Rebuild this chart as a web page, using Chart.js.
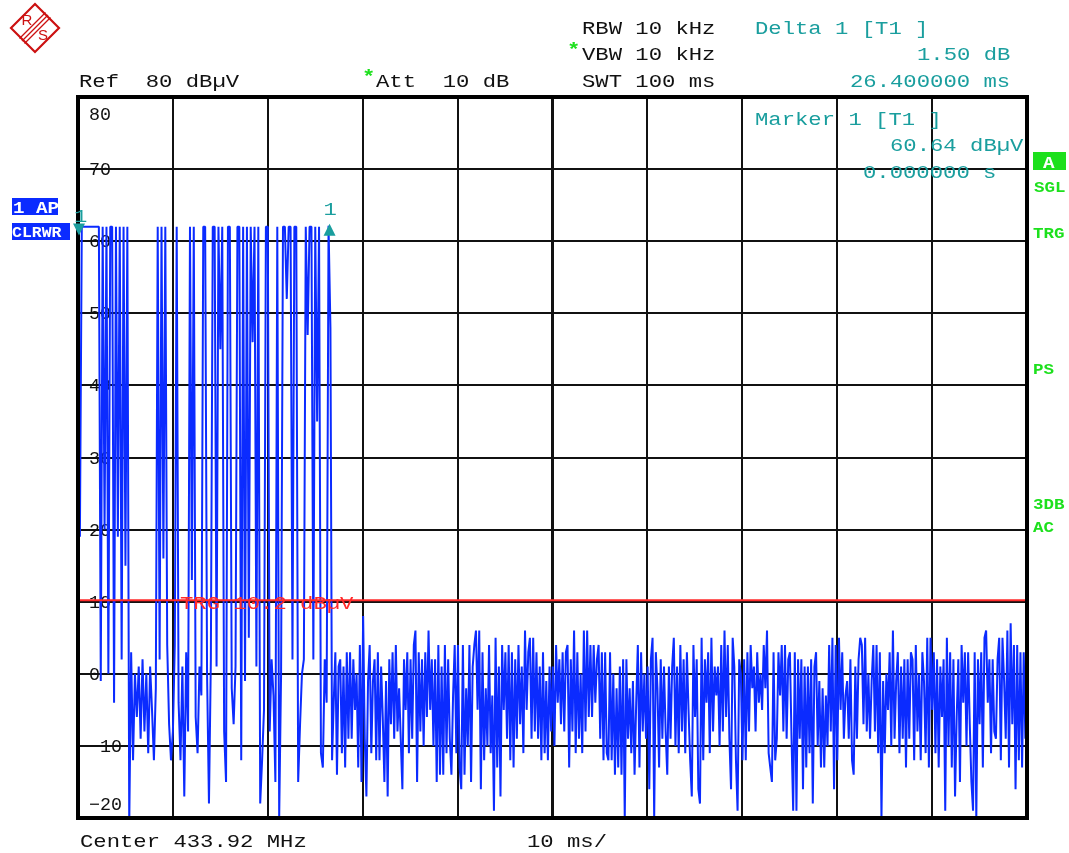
<!DOCTYPE html>
<html>
<head>
<meta charset="utf-8">
<script src="https://cdn.jsdelivr.net/npm/chart.js@4.4.1/dist/chart.umd.min.js"></script>
<style>
  html, body { margin: 0; padding: 0; background: #ffffff; }
  canvas { display: block; }
</style>
</head>
<body>
<canvas id="trace" width="1069" height="853"></canvas>
<script>
// sweep: 100 ms, y from -20 to 80 dBuV
const sweepMs = 100;
const burstStepMs = 0.2;
const refLevel = 80;
const bottomLevel = -20;
const trgLevel = 10.2;

const yTickValues = [80, 70, 60, 50, 40, 30, 20, 10, 0, -10, -20];
const yTickLabels = ['80', '70', '60', '50', '40', '30', '20', '10', '0', '\u221210', '\u221220'];

// burst part of the trace, one value every 0.2 ms from 0 to 26.4 ms
const burstLevels = [
  60.6, 19, 62, 62, 62, 62, 62, 62, 62, 62, 62, 62,
  -1, 62, 20, 62, 0, 62, 62, -4, 62, 19, 62, 2, 62, 15, 62, -21,
  3, -12, 0, -6, 1, -9, 2, -8, 0, -11, 1, -5, -12, -2,
  62, 2, 62, 16, 62, 4, -7, -12, -8, 4, 62, -4, -12, 1, -17, 3, -8,
  62, 13, 62, -6, -11, 1, -3, 62, 62, 0, -18, 2, 62, 62, 1, 62, 45, 62,
  -8, -15, 62, 62, -2, -7, 1, 62, 62, -12, 62, -1, 62, 5, 62, 46, 62, 1, 62,
  -18, -12, -5, 62, 62, -8, 2, -3, -15, 62, -20, 0, 62, 62, 52, 62, 62, 2, 62, 62,
  -15, -7, 0, 2, 62, 47, 62, 62, 2, 62, 35, 62, -11, -13, 2, -4, 62.14
];

// noise after the burst, 26.6 ms .. 100 ms
const noiseA = [
  48, -12, -4, 3, -14, 1, 2, -11, 1, -13, 3, -9, 3, -9, 2, -5, 0, -13, 4, -15,
  8, -9, -17, -1, 4, -11, -1, 2, -12, 3, -12, 1, -6, -15, -1, -17, 2, -7, 3, -9,
  4, -8, -2, -9, -16, 2, -5, 3, -11, 2, -9, 4, 6, -15, 3, -8, 2, -10, 3, -6,
  6, -5, 2, -10, 2, -15, 4, -14, 1, -14, 4, -11, 2, -9, -14, -3, 4, -11, 4, -13,
  -16, 4, -14, -2, -10, 4, -15, 1, 4, 6, -5, 6, -16, 3, -12, -2, -10, 4, -11, -3,
  -19, 5, -13, 1, -17, 4, -5, 3, -9, 4, -12, 3, -13, 2, -9, 4, -7, 1, -11, 6,
  -5, 3, 5, -9, 5, -8, 3, -9, 1, -12, 3, -11, -1, -12, 1, -8, 1, -10, 4, -4
];
const noiseB = [
  2, -7, 3, -8, 3, 4, -13, 2, -8, 6, -11, 3, -9, 0, -11, 6, -8, 6, -6, 4,
  -6, 4, -4, 2, 4, -9, 3, -12, 3, -11, -12, 3, -12, 0, -14, -2, -13, 1, -14, 2,
  -20, 2, -9, -2, -11, -1, -14, -4, 4, -13, 3, -8, 0, -9, 1, -16, 2, 5, -20, 3,
  -2, -13, 2, -9, 1, -8, -14, 1, -9, 1, 5, -10, 1, -11, 4, -8, 2, -11, 3, -5,
  -12, -17, 4, -6, 2, -16, -18, 5, -12, 2, -4, 3, -11, 5, -8, 1, -3, 1, -10, 4,
  -8, 6, -6, 4, -9, -16, 5, 1, -12, -19, 2, 0, -12, 2, -12, 3, -8, 4, -2, 1,
  -8, 3, -4, 0, -5, 4, -2, 6, -11, -13, -15, 3, -12, -9, 3, -3, 4, -8, 4, -9,
  2, 3, -9, -19
];
const noiseC = [
  3, -19, 2, -9, 2, -16, 1, -13, 1, -11, 2, -18, 1, 3, -10, -1, -13, -2, -13, -3,
  -10, 4, -8, 5, -16, 4, -12, 5, -5, 3, -9, -3, -1, -9, 2, -12, -14, 1, -9, 2,
  5, 4, -7, 5, -8, 0, -9, -1, 4, -8, 4, -11, 3, -20, -1, -11, 0, -5, 3, -10,
  6, -9, -1, 3, -11, 1, -9, 2, -13, 2, -9, 3, 2, -12, 4, -8, 0, -12, 3, -1,
  -11, 5, -13, 5, -5, 3, -11, 2, -13, 1, -6, 2, -19, 5, -10, 3, -13, 2, -17, -6,
  2, -15, 4, -4, 3, -10, 3, -7, -15, -19, 3, -20, 2, -7, 3, -13, 5, 6, -4, 2,
  -11, 2, -8, -9, 2, 5, -12, 5, -1, -9, 6, -13, 7, -7, 4, -16, 4, -12, 3, -13,
  3, -9, -6
];

const marker1 = { t: 0, level: 60.64 };
const delta1 = { t: 26.4, level: 62.14 };

const traceColor = '#0b2bff';
const teal = '#1a9e9e';
const green = '#1de01d';
const red = '#ff2a2a';
const ink = '#111111';

// build the trace points from the arrays
const tracePoints = [];
burstLevels.forEach((v, i) => tracePoints.push({ x: +(i * burstStepMs).toFixed(2), y: v }));
const noiseLevels = noiseA.concat(noiseB, noiseC);
const noiseStart = burstLevels.length * burstStepMs;
noiseLevels.forEach((v, k) => {
  tracePoints.push({ x: noiseStart + k * (sweepMs - noiseStart) / (noiseLevels.length - 1), y: v });
});

// stretched mono text, like the analyzer screen font
function txt(ctx, s, x, y, color, size, sx, weight) {
  ctx.save();
  ctx.font = (weight || 'normal') + ' ' + size + 'px "Liberation Mono", monospace';
  ctx.fillStyle = color;
  ctx.textBaseline = 'alphabetic';
  ctx.textAlign = 'left';
  ctx.translate(x, y);
  ctx.scale(sx, 1);
  ctx.fillText(s, 0, 0);
  ctx.restore();
}

const screenText = {
  id: 'screenText',
  beforeDatasetsDraw(chart) {
    const ctx = chart.ctx;
    const ys = chart.scales.y;
    yTickValues.forEach((v, i) => {
      let y = ys.getPixelForValue(v) + 6;
      if (i === 0) y += 17;
      if (i === yTickValues.length - 1) y -= 14;
      txt(ctx, yTickLabels[i], 89, y, ink, 18, 1.02);
    });
  },
  afterDatasetsDraw(chart) {
    const ctx = chart.ctx;
    const a = chart.chartArea;
    const xs = chart.scales.x, ys = chart.scales.y;

    // frame
    ctx.save();
    ctx.strokeStyle = '#000';
    ctx.lineWidth = 4;
    ctx.strokeRect(a.left, a.top, a.right - a.left, a.bottom - a.top);
    ctx.restore();

    // trigger label
    txt(ctx, 'TRG 10.2 dB\u00b5V', 180, ys.getPixelForValue(trgLevel) + 9, red, 19, 1.17);

    // marker 1
    ctx.save();
    ctx.fillStyle = teal;
    let mx = xs.getPixelForValue(marker1.t) + 1;
    let my = ys.getPixelForValue(marker1.level) - 1;
    ctx.beginPath();
    ctx.moveTo(mx - 6, my - 12);
    ctx.lineTo(mx + 6, my - 12);
    ctx.lineTo(mx, my);
    ctx.closePath();
    ctx.fill();
    // delta 1
    let dx = xs.getPixelForValue(delta1.t) + 1;
    let dy = ys.getPixelForValue(delta1.level) - 2;
    ctx.beginPath();
    ctx.moveTo(dx, dy);
    ctx.lineTo(dx - 6, dy + 12);
    ctx.lineTo(dx + 6, dy + 12);
    ctx.closePath();
    ctx.fill();
    ctx.restore();
    txt(ctx, '1', mx - 5, my - 14, teal, 19, 1.17);
    txt(ctx, '1', dx - 6, dy - 9, teal, 19, 1.17);
  },
  afterDraw(chart) {
    const ctx = chart.ctx;

    // header, left
    txt(ctx, 'Ref  80 dB\u00b5V', 79, 87, ink, 19, 1.17);
    txt(ctx, '*', 362, 82, green, 19, 1.17, 'bold');
    txt(ctx, 'Att  10 dB', 376, 87, ink, 19, 1.17);
    // header, settings
    txt(ctx, 'RBW 10 kHz', 582, 34, ink, 19, 1.17);
    txt(ctx, '*', 567, 55, green, 19, 1.17, 'bold');
    txt(ctx, 'VBW 10 kHz', 582, 60, ink, 19, 1.17);
    txt(ctx, 'SWT 100 ms', 582, 87, ink, 19, 1.17);
    // marker readouts
    txt(ctx, 'Delta 1 [T1 ]', 755, 34, teal, 19, 1.17);
    txt(ctx, '1.50 dB', 917, 60, teal, 19, 1.17);
    txt(ctx, '26.400000 ms', 850, 87, teal, 19, 1.17);
    txt(ctx, 'Marker 1 [T1 ]', 755, 125, teal, 19, 1.17);
    txt(ctx, '60.64 dB\u00b5V', 890, 151, teal, 19, 1.17);
    txt(ctx, '0.000000 s', 863, 178, teal, 19, 1.17);
    // footer
    txt(ctx, 'Center 433.92 MHz', 80, 847, ink, 19, 1.17);
    txt(ctx, '10 ms/', 527, 847, ink, 19, 1.17);

    // trace labels on the left
    ctx.save();
    ctx.fillStyle = traceColor;
    ctx.fillRect(12, 198, 46, 18);
    ctx.fillRect(12, 223, 58, 17);
    ctx.beginPath();
    ctx.rect(12, 198, 46, 18);
    ctx.rect(12, 223, 58, 17);
    ctx.clip();
    txt(ctx, '1 AP', 13, 213, '#ffffff', 16, 1.2, 'bold');
    txt(ctx, 'CLRWR', 12, 237, '#ffffff', 15, 1.1, 'bold');
    ctx.restore();
    ctx.save();
    ctx.strokeStyle = '#ffffff';
    ctx.lineWidth = 1;
    ctx.beginPath();
    ctx.moveTo(12, 215.5);
    ctx.lineTo(58, 215.5);
    ctx.stroke();
    ctx.restore();

    // status labels on the right
    ctx.save();
    ctx.fillStyle = green;
    ctx.fillRect(1033, 152, 33, 18);
    ctx.restore();
    txt(ctx, 'A', 1043, 168, '#ffffff', 16, 1.2, 'bold');
    txt(ctx, 'SGL', 1034, 192, green, 14, 1.25, 'bold');
    txt(ctx, 'TRG', 1033, 238, green, 14, 1.25, 'bold');
    txt(ctx, 'PS', 1033, 374, green, 14, 1.25, 'bold');
    txt(ctx, '3DB', 1033, 509, green, 14, 1.25, 'bold');
    txt(ctx, 'AC', 1033, 532, green, 14, 1.25, 'bold');

    // R&S logo
    ctx.save();
    ctx.translate(35, 28);
    ctx.strokeStyle = '#cc1111';
    ctx.fillStyle = '#cc1111';
    ctx.lineWidth = 2.2;
    ctx.beginPath();
    ctx.moveTo(0, -24);
    ctx.lineTo(24, 0);
    ctx.lineTo(0, 24);
    ctx.lineTo(-24, 0);
    ctx.closePath();
    ctx.stroke();
    ctx.lineWidth = 1.3;
    [-2.5, 0, 2.5].forEach(o => {
      ctx.beginPath();
      ctx.moveTo(-13 + o, 13 + o);
      ctx.lineTo(13 + o, -13 + o);
      ctx.stroke();
    });
    ctx.font = '15px "Liberation Sans", sans-serif';
    ctx.textAlign = 'center';
    ctx.textBaseline = 'middle';
    ctx.fillText('R', -8, -7);
    ctx.fillText('S', 8, 8);
    ctx.restore();
  }
};

const gridWidth = c => (c.tick && c.tick.value === 50 ? 3 : 2);

new Chart(document.getElementById('trace'), {
  type: 'line',
  data: {
    datasets: [
      {
        label: 'TRG',
        data: [{ x: 0, y: trgLevel }, { x: sweepMs, y: trgLevel }],
        borderColor: red,
        borderWidth: 2,
        pointRadius: 0,
        order: 0
      },
      {
        label: '1 AP CLRWR',
        data: tracePoints,
        borderColor: traceColor,
        borderWidth: 2,
        borderJoinStyle: 'bevel',
        pointRadius: 0,
        tension: 0,
        order: 1
      }
    ]
  },
  options: {
    responsive: false,
    animation: false,
    devicePixelRatio: 1,
    layout: { padding: { left: 78, top: 97, right: 42, bottom: 35 } },
    scales: {
      x: {
        type: 'linear',
        min: 0,
        max: sweepMs,
        ticks: { display: false, stepSize: 10 },
        grid: { color: '#111', lineWidth: gridWidth, drawTicks: false },
        border: { display: false }
      },
      y: {
        type: 'linear',
        min: bottomLevel,
        max: refLevel,
        ticks: { display: false, stepSize: 10 },
        grid: { color: '#111', lineWidth: 2, drawTicks: false },
        border: { display: false }
      }
    },
    plugins: {
      legend: { display: false },
      tooltip: { enabled: false }
    }
  },
  plugins: [screenText]
});
</script>
</body>
</html>
